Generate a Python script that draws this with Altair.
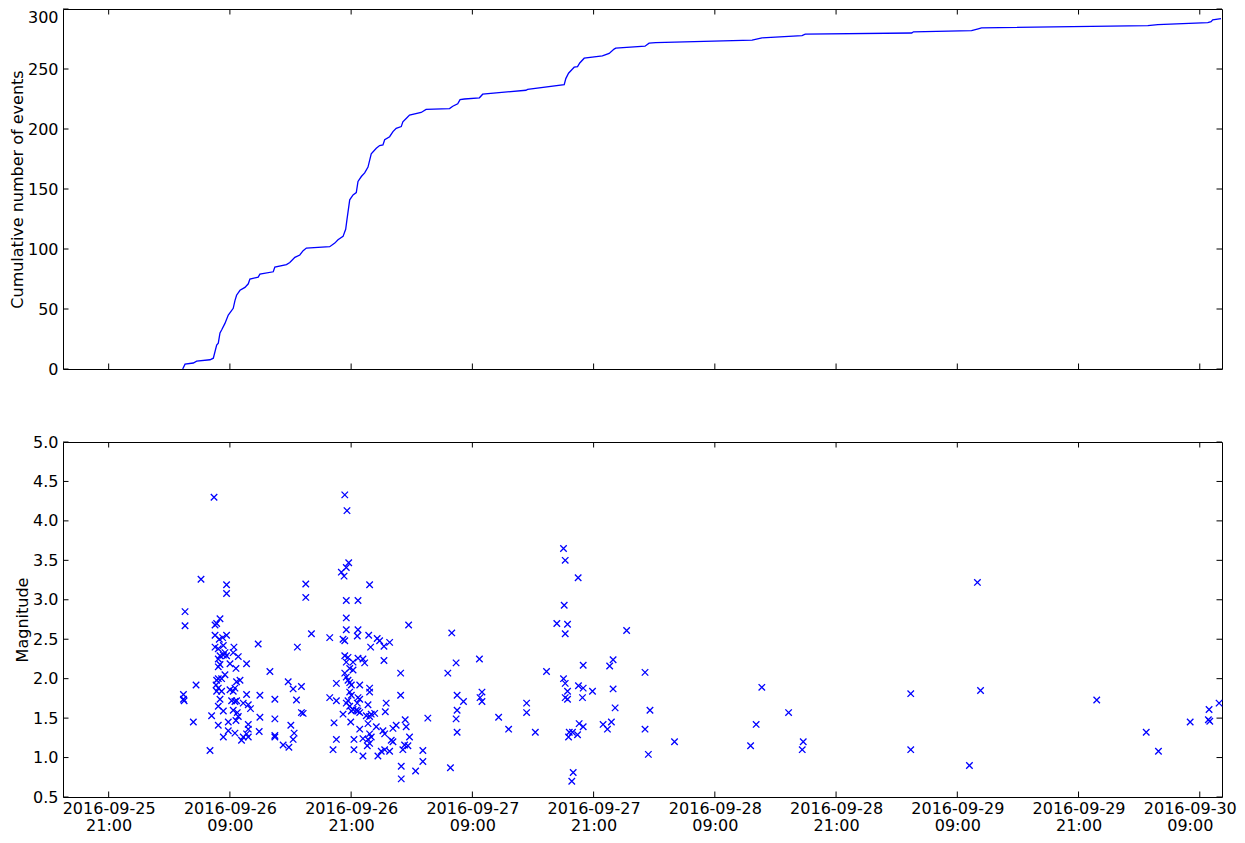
import altair as alt
import pandas as pd

BASE = pd.Timestamp("2016-09-25 21:00:00")

# cumulative curve: hours after 2016-09-25 21:00 and cumulative count
curve_hours = [7.33, 7.56, 8.38, 8.71, 10.03, 10.36, 10.69, 10.85, 11.02, 11.18, 11.51, 11.84,
               12.33, 12.50, 12.66, 13.00, 13.49, 13.82, 13.98, 14.80, 14.97, 16.29, 16.45,
               17.60, 17.93, 18.43, 18.92, 19.25, 19.57, 21.88, 22.38, 22.70, 23.20, 23.46,
               23.59, 23.86, 24.19, 24.51, 24.68, 25.01, 25.34, 25.67, 25.99, 26.49, 26.82,
               27.15, 27.32, 27.81, 28.14, 28.46, 28.96, 29.12, 29.45, 29.78, 30.93, 31.42,
               33.74, 34.06, 34.55, 34.78, 35.22, 36.70, 37.02, 41.30, 41.47, 45.09, 45.25,
               45.52, 45.91, 46.08, 46.41, 46.63, 47.07, 48.87, 49.54, 50.03, 50.19, 53.09,
               53.49, 54.14, 63.69, 64.67, 68.63, 68.95, 79.49, 79.66, 85.41, 86.07, 86.40,
               102.86, 103.85, 108.79, 109.12, 109.28, 110.10]
curve_counts = [0, 4, 5, 6.5, 7.7, 9, 20, 21.5, 30, 32.5, 38, 45,
                50.6, 57, 61.5, 65.6, 68, 71, 75, 76.6, 79, 81, 85,
                87, 88.7, 93, 95, 98.6, 100.8, 101.9, 104.9, 107.7, 110.5, 116.4,
                124.7, 141, 145, 147, 156.3, 160.4, 163.4, 168.3, 179.3, 184, 186.2,
                186.8, 191, 193.6, 197.8, 200.6, 202, 206, 208.8, 211.6, 213.8, 216.3,
                217, 219, 221, 224.5, 225, 226, 229, 232.3, 233, 237, 242,
                246.5, 250, 251.5, 252, 255, 259, 261, 263, 266.6, 267.4, 269,
                271.5, 272, 274, 276, 277.8, 279, 280, 281, 282, 283.5, 284.3,
                286.2, 287, 288.7, 289.5, 291, 292]

# events: hours after 2016-09-25 21:00 and magnitude
event_hours = [
    10.43, 9.14, 11.67, 11.67, 7.56, 7.56, 11.02, 10.53, 10.69, 10.53, 10.95, 11.28, 11.67, 14.80,
    10.53, 10.85, 11.35, 11.51, 12.40, 12.33, 12.83, 10.85, 11.02, 11.35, 11.67, 12.01, 12.60, 13.65,
    10.85, 11.02, 11.51, 10.69, 10.85, 11.18, 13.00, 12.66, 8.65, 10.63, 10.85, 12.01, 12.50, 12.33,
    10.69, 11.18, 14.97, 13.65, 7.40, 7.40, 7.47, 11.02, 12.17, 12.50, 12.66, 13.32, 13.82, 14.04,
    10.85, 11.35, 12.33, 12.73, 12.83, 10.19, 14.97, 8.38, 12.60, 10.85, 11.84, 13.82, 11.35, 11.84,
    12.50, 13.82, 13.65, 13.32, 13.15, 13.82, 14.90, 10.03,
    19.51, 19.51, 20.07, 21.88, 18.68, 15.96, 17.77, 18.26, 19.08, 22.54, 16.45, 18.59, 21.88, 22.54,
    19.25, 19.08, 16.45, 22.31, 16.45, 16.45, 18.03, 18.36, 18.26, 17.27, 17.84, 22.54, 22.21,
    23.37, 23.59, 23.76, 23.52, 23.03, 23.30, 25.83, 23.52, 24.68, 23.52, 23.52, 24.68, 24.61, 23.20,
    23.37, 25.74, 26.58, 26.82, 25.93, 27.25, 23.37, 23.69, 23.52, 24.19, 24.68, 25.17, 25.34, 27.25,
    23.86, 24.19, 23.37, 23.52, 23.69, 23.86, 24.02, 24.85, 25.83, 25.83, 23.86, 24.02, 23.69, 23.52,
    24.68, 24.85, 24.61, 27.47, 27.38, 23.86, 24.02, 24.19, 23.20, 24.68, 24.85, 24.51, 25.67, 25.50,
    25.99, 26.33, 25.83, 23.96, 25.67, 26.49, 25.83, 25.99, 25.67, 25.83, 25.60, 24.85, 25.17, 27.15,
    27.32, 24.28, 24.28, 25.17, 26.65, 26.98, 27.32,
    29.69, 33.96, 27.81, 34.39, 28.90, 33.57, 28.90, 31.59, 34.49, 34.49, 34.39, 34.49, 29.35, 29.45,
    28.14, 28.46, 29.78, 27.97, 28.14, 29.29, 29.62, 29.12, 27.81, 31.10, 31.10, 28.96, 28.96, 30.38,
    33.83,
    45.02, 45.19, 46.47, 45.09, 44.36, 45.42, 45.19, 51.27, 36.70, 43.34, 49.93, 49.59, 46.97, 53.09,
    45.02, 45.19, 45.42, 45.19, 45.42, 46.50, 46.97, 47.89, 49.93, 46.90, 35.12, 36.95, 36.76, 36.95,
    41.37, 41.37, 50.13, 53.58, 38.60, 39.59, 42.23, 46.57, 46.97, 48.94, 49.37, 49.76, 45.59, 45.91,
    45.52, 46.41, 53.09, 56.01, 53.42, 45.98, 45.84,
    85.99, 64.65, 79.39, 86.30, 97.80, 67.30, 64.09, 63.54, 68.75, 68.65, 79.39, 85.20, 102.70, 103.91,
    107.05, 108.92, 108.85, 108.99, 109.91]
magnitudes = [
    4.30, 3.26, 3.19, 3.08, 2.85, 2.67, 2.76, 2.68, 2.70, 2.55, 2.50, 2.52, 2.55, 2.44,
    2.40, 2.38, 2.42, 2.33, 2.40, 2.33, 2.28, 2.25, 2.29, 2.30, 2.29, 2.19, 2.13, 2.19,
    2.15, 2.18, 2.05, 1.98, 2.00, 2.00, 1.98, 1.96, 1.92, 1.92, 1.88, 1.86, 1.88, 1.84,
    1.84, 1.84, 1.79, 1.80, 1.80, 1.74, 1.72, 1.74, 1.72, 1.71, 1.72, 1.69, 1.67, 1.62,
    1.65, 1.59, 1.60, 1.57, 1.52, 1.53, 1.51, 1.45, 1.47, 1.41, 1.45, 1.42, 1.26, 1.34,
    1.31, 1.36, 1.30, 1.26, 1.22, 1.26, 1.33, 1.09,
    3.20, 3.03, 2.57, 2.52, 2.40, 2.09, 1.96, 1.87, 1.90, 1.94, 1.74, 1.73, 1.76, 1.72,
    1.56, 1.57, 1.49, 1.44, 1.28, 1.26, 1.41, 1.31, 1.23, 1.16, 1.13, 1.23, 1.10,
    4.33, 4.13, 3.47, 3.41, 3.35, 3.30, 3.19, 2.99, 2.99, 2.77, 2.62, 2.62, 2.54, 2.50,
    2.48, 2.55, 2.51, 2.48, 2.40, 2.41, 2.29, 2.27, 2.21, 2.21, 2.26, 2.25, 2.20, 2.23,
    2.13, 2.11, 2.07, 2.02, 1.98, 1.95, 1.92, 1.92, 1.88, 1.83, 1.83, 1.79, 1.72, 1.69,
    1.76, 1.74, 1.69, 1.69, 1.58, 1.65, 1.59, 1.61, 1.55, 1.59, 1.57, 1.60, 1.67, 1.53,
    1.55, 1.56, 1.52, 1.45, 1.43, 1.39, 1.30, 1.26, 1.23, 1.18, 1.15, 1.36, 1.24, 1.34,
    1.30, 1.23, 1.10, 1.02, 1.02, 1.08, 1.10,
    2.68, 2.58, 2.46, 2.20, 2.07, 2.07, 1.79, 1.50, 1.79, 1.60, 1.49, 1.32, 1.48, 1.39,
    1.37, 1.41, 1.26, 1.22, 1.20, 1.16, 1.15, 1.10, 1.08, 1.09, 0.95, 0.89, 0.73, 0.83,
    0.87,
    3.65, 3.50, 3.28, 2.93, 2.70, 2.69, 2.57, 2.61, 2.25, 2.09, 2.24, 2.16, 2.17, 2.08,
    2.00, 1.94, 1.84, 1.76, 1.74, 1.91, 1.88, 1.84, 1.87, 1.76, 1.71, 1.83, 1.76, 1.71,
    1.69, 1.57, 1.63, 1.60, 1.51, 1.36, 1.32, 1.43, 1.39, 1.42, 1.36, 1.45, 1.32, 1.32,
    1.26, 1.29, 1.36, 1.20, 1.04, 0.81, 0.70,
    3.22, 1.89, 1.81, 1.85, 1.73, 1.57, 1.42, 1.15, 1.20, 1.10, 1.10, 0.90, 1.32, 1.08,
    1.45, 1.61, 1.48, 1.46, 1.69]

x_tick_hours = [0, 12, 24, 36, 48, 60, 72, 84, 96, 108]
x_domain_hours = [-4.52, 110.2]
count_ticks = [0, 50, 100, 150, 200, 250, 300]
mag_ticks = [0.5, 1.0, 1.5, 2.0, 2.5, 3.0, 3.5, 4.0, 4.5, 5.0]

BLUE = "#0000ff"
W = 1159
H_TOP = 360
H_BOT = 355
GAP = 73
TICK = 5.5


def to_ts(h):
    return BASE + pd.to_timedelta(h, unit="h")


def iso(h):
    return to_ts(h).strftime("%Y-%m-%dT%H:%M:%S")


def dt(h):
    ts = to_ts(h)
    return alt.DateTime(year=ts.year, month=ts.month, date=ts.day,
                        hours=ts.hour, minutes=ts.minute, seconds=ts.second)


curve_df = pd.DataFrame({"t": [iso(h) for h in curve_hours], "n": curve_counts})
event_df = pd.DataFrame({"t": [iso(h) for h in event_hours], "m": magnitudes})
xtick_df = pd.DataFrame({"t": [iso(h) for h in x_tick_hours]})
ctick_df = pd.DataFrame({"v": count_ticks})
mtick_df = pd.DataFrame({"v": mag_ticks})

xscale = alt.Scale(domain=[dt(x_domain_hours[0]), dt(x_domain_hours[1])], nice=False)
cscale = alt.Scale(domain=[0, 300], nice=False, zero=False)
mscale = alt.Scale(domain=[0.5, 5.0], nice=False, zero=False)

x_axis_bottom = alt.Axis(
    values=[dt(h) for h in x_tick_hours],
    labelExpr="[timeFormat(datum.value, '%Y-%m-%d'), timeFormat(datum.value, '%H:%M')]",
    labelLineHeight=17, labelPadding=3, labelBaseline="top", labelAlign="center",
    labelFlush=False, labelOverlap=False, title=None,
    labelOffset={"condition": {"test": "datum.index >= 0.99", "value": -10}, "value": 0},
)
c_axis = alt.Axis(values=count_ticks, format="d", title="Cumulative number of events",
                  labelPadding=5, titlePadding=2,
                  labelBaseline={"condition": {"test": "datum.index >= 0.99", "value": "top"},
                                 "value": "middle"})
m_axis = alt.Axis(values=mag_ticks, format=".1f", title="Magnitude",
                  labelPadding=5, titlePadding=2)


def panel(main, yscale, yaxis, tick_df, height, xaxis):
    xt_top = alt.Chart(xtick_df).mark_rule(color="black", strokeWidth=1).encode(
        x=alt.X("t:T", scale=xscale, axis=xaxis), y=alt.value(0), y2=alt.value(TICK))
    xt_bot = alt.Chart(xtick_df).mark_rule(color="black", strokeWidth=1).encode(
        x=alt.X("t:T", scale=xscale, axis=xaxis), y=alt.value(height - TICK), y2=alt.value(height))
    yt_l = alt.Chart(tick_df).mark_rule(color="black", strokeWidth=1).encode(
        y=alt.Y("v:Q", scale=yscale, axis=yaxis), x=alt.value(0), x2=alt.value(TICK))
    yt_r = alt.Chart(tick_df).mark_rule(color="black", strokeWidth=1).encode(
        y=alt.Y("v:Q", scale=yscale, axis=yaxis), x=alt.value(W - TICK), x2=alt.value(W))
    return alt.layer(main, xt_top, xt_bot, yt_l, yt_r).properties(width=W, height=height)


line = alt.Chart(curve_df).mark_line(color=BLUE, strokeWidth=1.3).encode(
    x=alt.X("t:T", scale=xscale, axis=None),
    y=alt.Y("n:Q", scale=cscale, axis=c_axis),
)
top = panel(line, cscale, c_axis, ctick_df, H_TOP, None)

points = alt.Chart(event_df).mark_point(
    shape="M-1,-1L1,1M-1,1L1,-1", filled=False, color=BLUE, size=42, strokeWidth=1.3, opacity=1
).encode(
    x=alt.X("t:T", scale=xscale, axis=x_axis_bottom),
    y=alt.Y("m:Q", scale=mscale, axis=m_axis),
)
bottom = panel(points, mscale, m_axis, mtick_df, H_BOT, x_axis_bottom)

chart = alt.vconcat(top, bottom, spacing=GAP, bounds="flush").properties(
    padding=0
).configure_view(
    stroke="black", strokeWidth=1
).configure_axis(
    labelFont="DejaVu Sans", titleFont="DejaVu Sans", labelFontSize=16, titleFontSize=16,
    titleFontWeight="normal", labelColor="black", titleColor="black",
    grid=False, domain=False, ticks=False,
)

chart.save("out.html", embed_options={"renderer": "svg", "actions": False})
